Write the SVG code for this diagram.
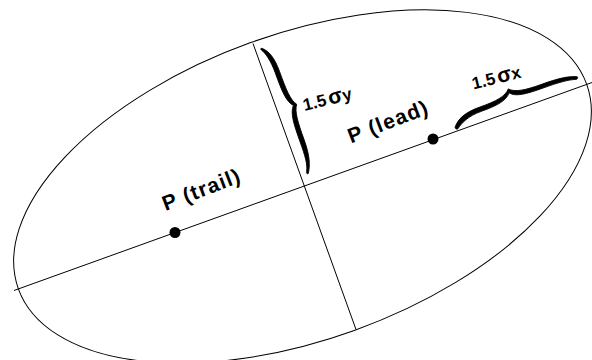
<svg xmlns="http://www.w3.org/2000/svg" width="592" height="360" viewBox="0 0 592 360">
<style>
.thin{fill:none;stroke:#000;stroke-width:1}
.dot{fill:#000}
.lbl{font-family:"Liberation Sans",Arial,sans-serif;font-weight:bold;fill:#000}
.big{font-size:21px;letter-spacing:1.2px}
.sm{font-size:17px}
.brace{fill:#000;stroke:#000;stroke-width:0.8;stroke-linejoin:round}
</style>
<rect width="592" height="360" fill="#fff"/>
<g id="ellipse">
<ellipse class="thin" cx="302.5" cy="186.5" rx="302" ry="153" transform="rotate(-19.8 302.5 186.5)"/>
</g>
<g id="connectors">
<line class="thin" x1="14" y1="290.5" x2="592" y2="82.5"/>
<line class="thin" x1="253" y1="43.5" x2="356" y2="329.5"/>
</g>
<g id="p-trail">
<circle class="dot" cx="175" cy="232.5" r="5.5"/>
<text class="lbl big" transform="translate(165.5 211) rotate(-21)">P (trail)</text>
</g>
<g id="p-lead">
<circle class="dot" cx="433" cy="139" r="5.5"/>
<text class="lbl big" transform="translate(351 143.5) rotate(-21)">P (lead)</text>
</g>
<g id="sigma-y">
<path class="brace" transform="translate(253 43.5) rotate(70.2)" d="M7.5,-6.6 C12,-12 20,-15.5 35,-15.5 C55,-15.5 66,-16 72,-20.5 C78,-16 89,-15.5 108,-15.5 C125,-15.5 134,-12.5 141,-8 C141.5,-7 140,-6 139,-7 C132,-10.5 124,-11 108,-11 C89,-11 78,-11.5 72,-17 C66,-11.5 55,-11 35,-11 C22,-11 13,-8.5 8.5,-5.5 C8,-5 7,-5.5 7.5,-6.6 Z"/>
<text class="lbl sm" transform="translate(304.5 111) rotate(-14)">1.5<tspan dx="2.5" font-size="21">σ</tspan>y</text>
</g>
<g id="sigma-x">
<path class="brace" transform="translate(456.6 131.4) rotate(-19.8)" d="M0,-4.5 C6,-11.5 14,-15 30,-15 C48,-15 58,-16.5 63,-22.5 C68,-17 78,-15.5 96,-15.5 C112,-15.5 124,-14.5 132,-10.5 C132.5,-9 131,-8 130,-8.5 C122,-11 112,-11.5 96,-11.5 C78,-11.5 67,-12.5 62.5,-18.5 C57,-12 47,-10.5 30,-10.5 C16,-10.5 8,-6.5 2,-2 C1,-1.5 -0.5,-3 0,-4.5 Z"/>
<text class="lbl sm" transform="translate(473.5 89.5) rotate(-14)">1.5<tspan dx="2.5" font-size="21">σ</tspan>x</text>
</g>
</svg>
